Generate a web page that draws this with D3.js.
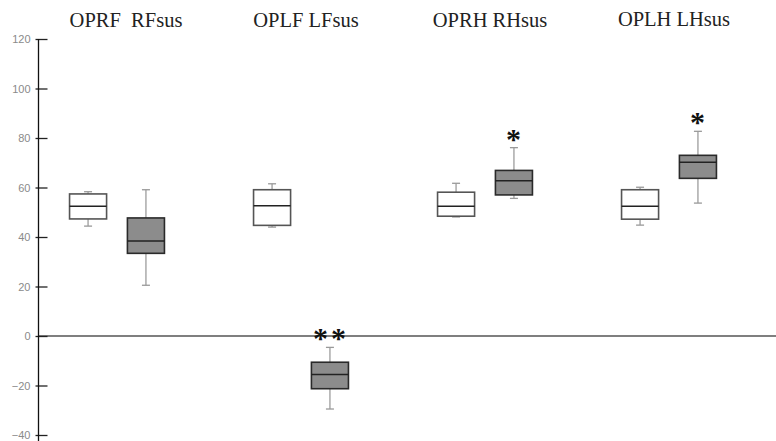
<!DOCTYPE html>
<html>
<head>
<meta charset="utf-8">
<script src="https://cdn.jsdelivr.net/npm/d3@7"></script>
<style>
  html, body { margin: 0; padding: 0; background: #fff; }
  svg { display: block; }
  .serif { font-family: "Liberation Serif", "DejaVu Serif", "Times New Roman", Times, serif; }
  .sans { font-family: "Liberation Sans", Arial, sans-serif; }
</style>
</head>
<body>
<svg id="chart" width="776" height="441"></svg>
<script>
// Comparison groups and their titles
const groups = ["OPRF", "OPLF", "OPRH", "OPLH"];
const titles = ["OPRF  RFsus", "OPLF LFsus", "OPRH RHsus", "OPLH LHsus"];
const conditions = ["OP", "sus"];

// Box statistics per group: [min, q1, median, q3, max]
const opStats = [
  [44.4, 47.3, 52.4, 57.4, 58.3],
  [44.0, 44.7, 52.6, 59.1, 61.5],
  [48.1, 48.4, 52.4, 58.1, 61.7],
  [44.8, 47.2, 52.4, 59.1, 60.1]
];
const susStats = [
  [20.5, 33.4, 38.4, 47.7, 59.1],
  [-29.5, -21.3, -15.6, -10.6, -4.6],
  [55.6, 57.0, 62.7, 66.9, 76.1],
  [53.7, 63.7, 70.2, 73.0, 82.7]
];
// Significance marks above the "sus" boxes
const marks = ["", "**", "*", "*"];

const yTicks = [-40, -20, 0, 20, 40, 60, 80, 100, 120];

const svg = d3.select("#chart");

const y = d3.scaleLinear().domain([-40, 120]).range([435, 39]);
const x = d3.scaleBand().domain(groups).range([25, 761]);
const xSub = d3.scaleBand().domain(conditions)
  .range([0, x.bandwidth()]).paddingInner(0.36).paddingOuter(0.77);

// Zero reference line
svg.append("line")
  .attr("x1", 38).attr("x2", 776)
  .attr("y1", y(0)).attr("y2", y(0))
  .attr("stroke", "#555").attr("stroke-width", 1.3);

// Y axis
const axis = d3.axisLeft(y).tickValues(yTicks).tickSize(3).tickPadding(3);
const gAxis = svg.append("g").attr("transform", "translate(38.5,0)").call(axis);
gAxis.attr("font-family", null).attr("font-size", null);
gAxis.select(".domain").remove();
gAxis.append("line").attr("x1", 0).attr("x2", 0)
  .attr("y1", y(120)).attr("y2", 441)
  .attr("stroke", "#111").attr("stroke-width", 1.3);
gAxis.selectAll(".tick line").attr("x1", 9).attr("x2", -3)
  .attr("stroke", "#222").attr("stroke-width", 1.3);
gAxis.selectAll(".tick text")
  .attr("class", "sans")
  .attr("fill", "#8a8a8a")
  .style("font-size", "11px")
  .attr("x", -8);

// Group titles
svg.selectAll("text.title").data(groups).enter().append("text")
  .attr("class", "title serif")
  .attr("x", (d, i) => x(d) + x.bandwidth() / 2 + (i === 0 ? 9 : 5))
  .attr("y", (d, i) => i === 3 ? 26 : 27)
  .attr("text-anchor", "middle")
  .style("font-size", "20.5px")
  .attr("fill", "#222")
  .style("white-space", "pre")
  .text((d, i) => titles[i]);

// Box plot drawing
const series = [
  { key: "OP", stats: opStats, fill: "#ffffff", stroke: "#555" },
  { key: "sus", stats: susStats, fill: "#8c8c8c", stroke: "#2a2a2a" }
];
const bw = xSub.bandwidth();
const capW = 8;

series.forEach((s) => {
  const g = svg.append("g");
  groups.forEach((grp, i) => {
    const [mn, q1, md, q3, mx] = s.stats[i];
    const cx = x(grp) + xSub(s.key) + bw / 2;
    // whiskers
    g.append("line").attr("x1", cx).attr("x2", cx)
      .attr("y1", y(mx)).attr("y2", y(q3))
      .attr("stroke", "#aaa").attr("stroke-width", 1.5);
    g.append("line").attr("x1", cx).attr("x2", cx)
      .attr("y1", y(q1)).attr("y2", y(mn))
      .attr("stroke", "#aaa").attr("stroke-width", 1.5);
    [mn, mx].forEach((v) => {
      g.append("line").attr("x1", cx - capW / 2).attr("x2", cx + capW / 2)
        .attr("y1", y(v)).attr("y2", y(v))
        .attr("stroke", "#999").attr("stroke-width", 1.3);
    });
    // box
    g.append("rect")
      .attr("x", cx - bw / 2).attr("width", bw)
      .attr("y", y(q3)).attr("height", y(q1) - y(q3))
      .attr("fill", s.fill).attr("stroke", s.stroke).attr("stroke-width", 1.6);
    // median
    g.append("line").attr("x1", cx - bw / 2).attr("x2", cx + bw / 2)
      .attr("y1", y(md)).attr("y2", y(md))
      .attr("stroke", "#222").attr("stroke-width", 1.5);
  });
});

// Significance asterisks
svg.selectAll("text.mark").data(groups).enter().append("text")
  .attr("class", "mark serif")
  .attr("x", (d) => x(d) + xSub("sus") + bw / 2 + 1)
  .attr("y", (d, i) => y(susStats[i][4]) + 1)
  .attr("text-anchor", "middle")
  .style("font-size", "30px")
  .style("font-weight", "bold")
  .attr("letter-spacing", 3)
  .attr("fill", "#111")
  .text((d, i) => marks[i]);
</script>
</body>
</html>
